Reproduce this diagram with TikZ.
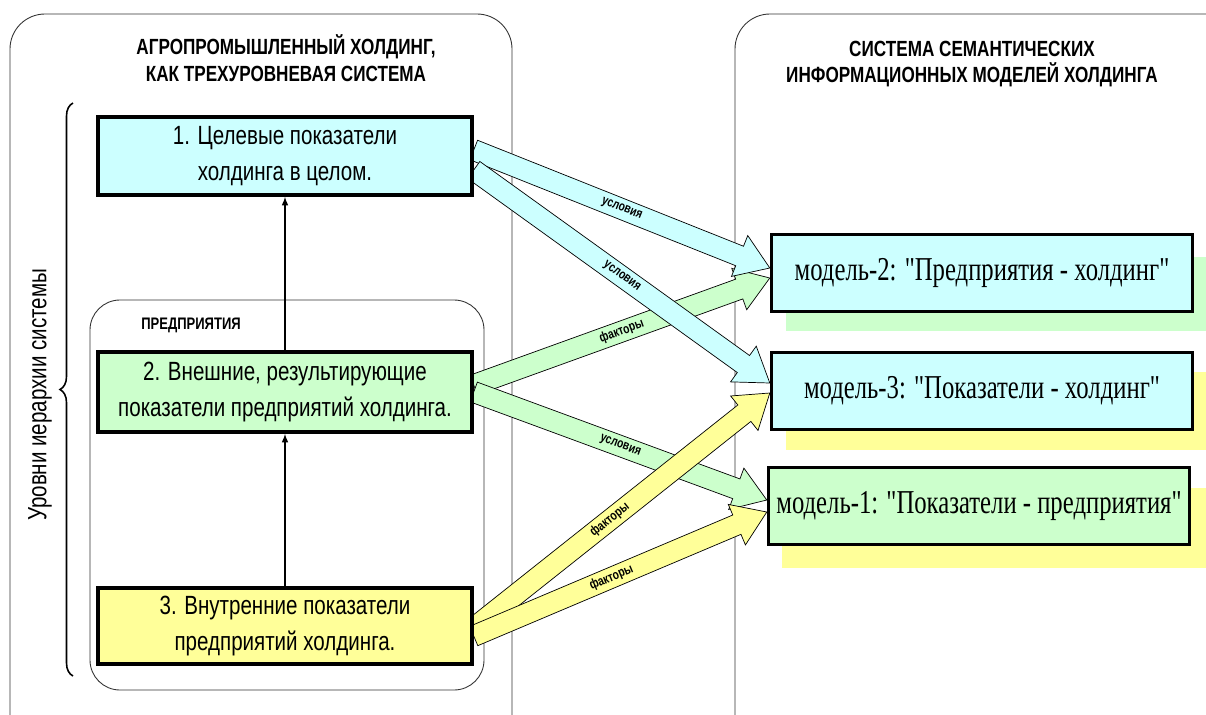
\documentclass[tikz,border=0pt]{standalone}
\usepackage{fontspec}
\setmainfont{Liberation Sans}
\newfontfamily\narrowsans[FakeStretch=0.78]{Liberation Sans}
\newfontfamily\narrowserif[FakeStretch=0.74]{Liberation Serif}
\usetikzlibrary{calc,backgrounds,decorations.pathreplacing}

\definecolor{lcyan}{HTML}{CCFFFF}
\definecolor{lgreen}{HTML}{CCFFCC}
\definecolor{lyellow}{HTML}{FFFF99}

% wide block arrow: start, tip, colour, label, label position
\newcommand{\fatarrow}[5]{%
  \coordinate (hb) at ($(#2)!0.65cm!(#1)$);
  \filldraw[fill=#3, draw=black, line width=0.4pt]
    ($(#1)!0.21cm!90:(#2)$) -- ($(hb)!0.21cm!90:(#2)$) -- ($(hb)!0.44cm!90:(#2)$)
    -- (#2) -- ($(hb)!0.44cm!-90:(#2)$) -- ($(hb)!0.21cm!-90:(#2)$)
    -- ($(#1)!0.21cm!-90:(#2)$) -- cycle;
  \path (#1) -- (#2) node[pos=#5, sloped, font=\narrowsans\bfseries\fontsize{7.5}{8}\selectfont] {#4};
}

\begin{document}
\begin{tikzpicture}[x=0.02cm, y=-0.02cm,
  panel/.style={draw=black!80, line width=0.5pt, rounded corners=0.7cm},
  lvlbox/.style={draw, line width=2pt, minimum width=7.48cm, minimum height=1.56cm,
    align=center, font=\narrowsans\fontsize{15}{20}\selectfont},
  modbox/.style={draw, line width=2pt, minimum width=8.42cm, minimum height=1.54cm,
    font=\narrowserif\fontsize{19}{22}\selectfont},
  head/.style={align=center, font=\narrowsans\bfseries\fontsize{12.5}{15}\selectfont}]
  \useasboundingbox (0,0) rectangle (1206,714);
  \clip (0,0) rectangle (1206,714);

  \node[head] (hl) at (286,58) {АГРОПРОМЫШЛЕННЫЙ ХОЛДИНГ,\\КАК ТРЕХУРОВНЕВАЯ СИСТЕМА};
  \node[head] (hr) at (972,64) {СИСТЕМА СЕМАНТИЧЕСКИХ\\ИНФОРМАЦИОННЫХ МОДЕЛЕЙ ХОЛДИНГА};
  \node[font=\narrowsans\bfseries\fontsize{9.5}{11}\selectfont] (ent) at (191,325) {ПРЕДПРИЯТИЯ};
  \node[rotate=90, font=\narrowsans\fontsize{15}{18}\selectfont] (lvl) at (40,395) {Уровни иерархии системы};

  % levels
  \node[lvlbox, fill=lcyan] (b1) at (285,156) {1. Целевые показатели\\холдинга в целом.};
  \node[lvlbox, fill=lgreen, minimum height=1.6cm] (b2) at (285,392) {2. Внешние, результирующие\\показатели предприятий холдинга.};
  \node[lvlbox, fill=lyellow, minimum height=1.52cm] (b3) at (285,626) {3. Внутренние показатели\\предприятий холдинга.};
  \draw[-latex, line width=0.7pt] (b2) -- (b1);
  \draw[-latex, line width=0.7pt] (b3) -- (b2);
  \draw[decorate, decoration={brace, amplitude=0.26cm}, line width=0.9pt] (73,676) -- (73,103);

  % models
  \node[modbox, fill=lcyan] (m2) at (982,273) {модель-2: "Предприятия - холдинг"};
  \node[modbox, fill=lcyan] (m3) at (982,391) {модель-3: "Показатели - холдинг"};
  \node[modbox, fill=lgreen] (m1) at (979,506) {модель-1: "Показатели - предприятия"};

  \coordinate (p1a) at ($(b1.east)+(0,-6)$);
  \coordinate (p1b) at ($(b1.east)+(0,14)$);
  \coordinate (p2a) at ($(b2.east)+(0,-7)$);
  \coordinate (p2b) at ($(b2.east)+(0,0)$);
  \coordinate (p3a) at ($(b3.east)+(0,2)$);
  \coordinate (p3b) at ($(b3.east)+(0,10)$);
  \coordinate (q2a) at ($(m2.west)+(0,-5)$);
  \coordinate (q2b) at ($(m2.west)+(0,5)$);
  \coordinate (q3a) at ($(m3.west)+(0,-8)$);
  \coordinate (q3b) at ($(m3.west)+(0,2)$);
  \coordinate (q1a) at ($(m1.west)+(0,-6)$);
  \coordinate (q1b) at ($(m1.west)+(0,6)$);

  \begin{scope}[on background layer]
    \draw[panel] (10,14) rectangle (512,760);
    \draw[panel] (735,14) rectangle (1250,760);
    \draw[panel, rounded corners=0.6cm] (90,300) rectangle (484,690);
    \fill[lgreen] (786,257) rectangle (1207,331);
    \fill[lyellow] (786,372) rectangle (1207,450);
    \fill[lyellow] (782,488) rectangle (1207,568);
    \fatarrow{p2a}{q2b}{lgreen}{факторы}{0.5}
    \fatarrow{p2b}{q1a}{lgreen}{условия}{0.5}
    \fatarrow{p1a}{q2a}{lcyan}{условия}{0.5}
    \fatarrow{p1b}{q3a}{lcyan}{условия}{0.5}
    \fatarrow{p3a}{q3b}{lyellow}{факторы}{0.46}
    \fatarrow{p3b}{q1b}{lyellow}{факторы}{0.47}
  \end{scope}
\end{tikzpicture}
\end{document}
